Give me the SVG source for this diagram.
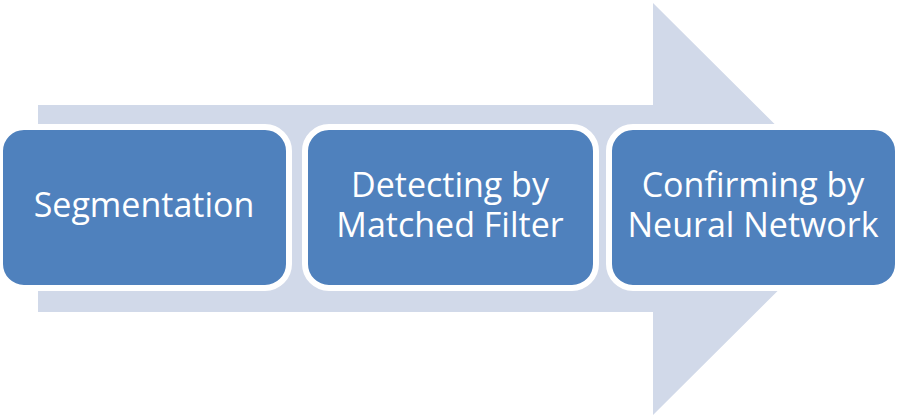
<svg xmlns="http://www.w3.org/2000/svg" width="898" height="418" viewBox="0 0 898 418">
<style>
.box{fill:#4f81bd;stroke:#ffffff;stroke-width:6}
.lbl{font-family:"Open Sans","Liberation Sans",sans-serif;font-size:34px;fill:#ffffff;text-anchor:middle}
</style>
<rect width="898" height="418" fill="#ffffff"/>
<g id="connectors">
<polygon points="38,105 653,105 653,3 860,209 653,415 653,312 38,312" fill="#d1d9e9"/>
</g>
<g id="segmentation">
<rect class="box" x="0" y="127" width="289" height="161" rx="24"/>
<text class="lbl" x="144" y="217">Segmentation</text>
</g>
<g id="matched-filter">
<rect class="box" x="305" y="127" width="291" height="161" rx="24"/>
<text class="lbl" x="450" y="197">Detecting by</text>
<text class="lbl" x="450" y="237">Matched Filter</text>
</g>
<g id="neural-network">
<rect class="box" x="609" y="127" width="289" height="161" rx="24"/>
<text class="lbl" x="753" y="197">Confirming by</text>
<text class="lbl" x="753" y="237">Neural Network</text>
</g>
</svg>
